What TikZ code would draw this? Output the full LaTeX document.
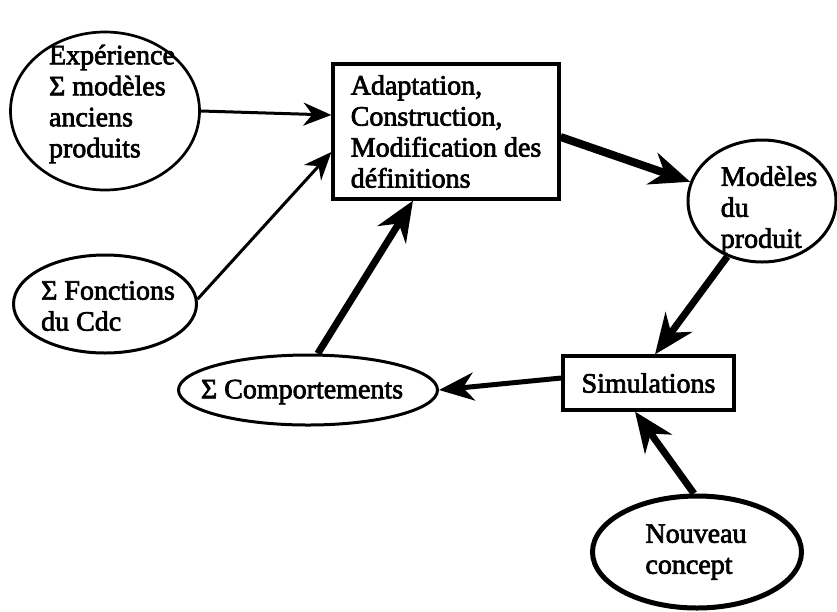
\documentclass[tikz,border=0pt]{standalone}
\usepackage{fontspec}
\setmainfont{Liberation Serif}[FakeBold=2.5]
\usetikzlibrary{arrows.meta,shapes.geometric,calc}
\begin{document}
\begin{tikzpicture}[x=1pt,y=-1pt,
  every node/.style={font=\fontsize{28}{31}\selectfont},
  ell/.style={draw, ellipse, inner sep=0pt, line width=3pt},
  boxnode/.style={draw, rectangle, line width=3.2pt, inner sep=0pt, align=left},
  txt/.style={align=left, inner sep=0pt},
  thinarr/.style={line width=3pt, -{Stealth[length=28pt,width=23pt,inset=9pt]}},
  thickarr/.style={line width=7pt, -{Stealth[length=40pt,width=33pt,inset=13pt]}},
  medarr/.style={line width=5pt, -{Stealth[length=35pt,width=28pt,inset=11pt]}},
]
\useasboundingbox (0,0) rectangle (837,611);

\node[ell, line width=2.7pt, minimum width=189pt, minimum height=158pt] (exp) at (105,111) {};
\node[txt] (expt) at (112,104) {Expérience\\Σ modèles\\anciens\\produits};

\node[boxnode, minimum width=226pt, minimum height=135pt] (box) at (446,131.5) {Adaptation,\\Construction,\\Modification des\\définitions};

\node[ell, minimum width=148pt, minimum height=122pt] (mod) at (762,201) {};
\node[txt] (modt) at (769,210) {Modèles\\du\\produit};

\node[ell, minimum width=183pt, minimum height=98pt] (fon) at (105,304) {};
\node[txt] (font) at (108,306) {Σ Fonctions\\du Cdc};

\node[ell, minimum width=259pt, minimum height=70pt] (com) at (308,390) {};
\node[txt] (comt) at (302,392) {Σ Comportements};

\node[boxnode, minimum width=171pt, minimum height=54pt] (sim) at (648.5,383) {Simulations};

\node[ell, line width=5pt, minimum width=209pt, minimum height=112pt] (nou) at (697,552) {};
\node[txt] (nout) at (696,552) {Nouveau\\concept};

\draw[thinarr] (exp.east) -- ($(box.west)+(0,-16.5)$);
\draw[thinarr] (fon.3) -- ($(box.west)+(0,20.5)$);
\draw[thickarr, line width=8pt] ($(box.east)+(0,5.5)$) -- (mod.165);
\draw[thickarr] (mod.238) -- ($(sim.north)+(6.5,0)$);
\draw[thickarr] (nou.93) -- ($(sim.south)+(-13.5,0)$);
\draw[medarr] ($(sim.west)+(0,-5)$) -- (com.east);
\draw[thickarr] (com.75) -- ($(box.south)+(-33,0)$);
\end{tikzpicture}
\end{document}
